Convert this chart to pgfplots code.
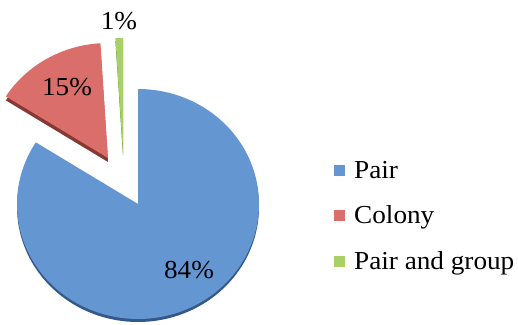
\documentclass[border=0pt]{standalone}
\usepackage{pgfplots}
\usepackage{pgfplotstable}
\pgfplotsset{compat=1.18}
\usepackage{fontspec}
\setmainfont{Liberation Serif}[FakeStretch=1.05]
\definecolor{pieblue}{RGB}{100,150,210}
\definecolor{pieblueD}{RGB}{52,88,138}
\definecolor{piered}{RGB}{218,110,106}
\definecolor{pieredD}{RGB}{135,55,52}
\definecolor{piegreen}{RGB}{168,208,102}
\definecolor{piegreenD}{RGB}{100,135,50}
\pgfplotstableread{
label value
Pair 84
Colony 15
Group 1
}\piedata
\pgfplotstablegetelem{0}{value}\of\piedata \let\vA\pgfplotsretval
\pgfplotstablegetelem{1}{value}\of\piedata \let\vB\pgfplotsretval
\pgfplotstablegetelem{2}{value}\of\piedata \let\vC\pgfplotsretval
\begin{document}
\begin{tikzpicture}
\begin{axis}[
  scale only axis, width=518bp, height=325bp,
  xmin=0, xmax=518, ymin=0, ymax=325,
  hide axis, clip=false,
  legend style={at={(axis cs:334,165)}, anchor=north west, draw=none, fill=none,
    font=\fontsize{26}{30}\selectfont, row sep=24bp, column sep=8bp, inner sep=0pt,
    nodes={inner sep=1pt}},
  legend cell align=left,
  legend image code/.code={\fill[#1] (0bp,-5.5bp) rectangle (11bp,5.5bp);},
]
\path (axis cs:0,0) rectangle (axis cs:518,325);
% Blue slice (Pair): from 90 deg clockwise
\addplot[draw=none, fill=pieblueD, forget plot, domain={90-3.6*\vA}:90, samples=150]
  ({138+121*cos(x)}, {118+115*sin(x)}) -- (axis cs:138,118) -- cycle;
\addplot[draw=none, fill=pieblue, domain={90-3.6*\vA}:90, samples=150]
  ({138+121*cos(x)}, {121+115*sin(x)}) -- (axis cs:138,121) -- cycle;
\addlegendentry{Pair}
% Red slice (Colony)
\addplot[draw=none, fill=pieredD, forget plot, domain={90+3.6*\vC}:{90+3.6*(\vC+\vB)}, samples=40]
  ({108+121*cos(x)}, {163+115*sin(x)}) -- (axis cs:108,163) -- cycle;
\addplot[draw=none, fill=piered, domain={90+3.6*\vC}:{90+3.6*(\vC+\vB)}, samples=40]
  ({108+121*cos(x)}, {167+115*sin(x)}) -- (axis cs:108,167) -- cycle;
\addlegendentry{Colony}
% Green slice (Pair and group)
\addplot[draw=none, fill=piegreenD, forget plot, domain=90:{90+3.6*\vC}, samples=5]
  ({123+121*cos(x)}, {169+115*sin(x)}) -- (axis cs:123,169) -- cycle;
\addplot[draw=none, fill=piegreen, domain=90:{90+3.6*\vC}, samples=5]
  ({123+121*cos(x)}, {172+115*sin(x)}) -- (axis cs:123,172) -- cycle;
\addlegendentry{Pair and group}
\node[font=\fontsize{26}{30}\selectfont] at (axis cs:119,304) {1\%};
\node[font=\fontsize{26}{30}\selectfont] at (axis cs:67,238) {15\%};
\node[font=\fontsize{26}{30}\selectfont] at (axis cs:189,55) {84\%};
\end{axis}
\end{tikzpicture}
\end{document}
